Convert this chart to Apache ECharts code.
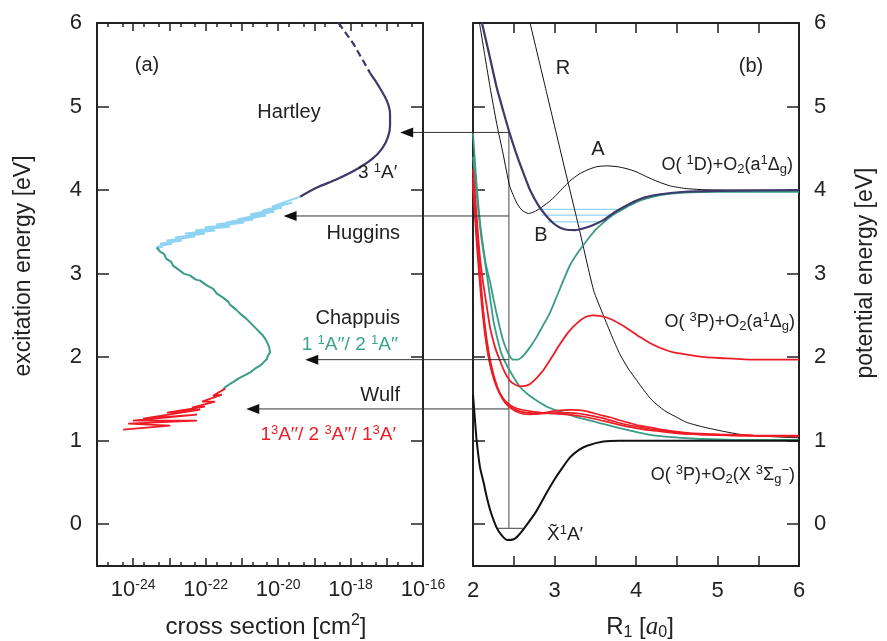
<!DOCTYPE html>
<html><head><meta charset="utf-8">
<script src="https://cdn.jsdelivr.net/npm/echarts@6/dist/echarts.min.js"></script>
<style>html,body{margin:0;padding:0;background:#fff}#c{width:887px;height:641px}</style>
</head><body><div id="c"></div>
<script>
// ---------------- DATA ----------------
// Panel (a): [log10(cross section / cm^2), excitation energy / eV]
const hartleyDashed = [[-18.33,6.0],[-17.92,5.75],[-17.55,5.47],[-17.46,5.40]];
const hartleySolid = [[-17.46,5.40],[-17.23,5.25],[-17.0,5.07],[-16.91,4.91],[-16.91,4.77],[-16.97,4.63],[-17.14,4.49],[-17.41,4.37],[-17.83,4.25],[-18.38,4.13],[-18.93,4.03],[-19.39,3.92]];
const huggins = [[-19.39,3.922],[-20.17,3.802],[-19.61,3.850],[-20.44,3.754],[-19.89,3.790],[-20.77,3.707],[-20.11,3.743],[-21.13,3.647],[-20.33,3.695],[-21.44,3.611],[-20.69,3.647],[-21.71,3.587],[-20.94,3.611],[-22.02,3.551],[-21.33,3.563],[-22.29,3.515],[-21.74,3.515],[-22.57,3.479],[-22.02,3.479],[-22.85,3.431],[-22.29,3.443],[-23.09,3.395],[-22.65,3.395],[-23.26,3.359],[-22.93,3.359],[-23.34,3.323],[-23.18,3.323],[-23.37,3.299]];
const chappuis = [[-23.35,3.315],[-23.26,3.263],[-23.15,3.236],[-23.09,3.180],[-22.96,3.144],[-22.90,3.096],[-22.71,3.036],[-22.60,3.0],[-22.43,2.976],[-22.27,2.928],[-22.15,2.916],[-21.96,2.856],[-21.80,2.820],[-21.69,2.760],[-21.52,2.713],[-21.38,2.665],[-21.33,2.629],[-21.16,2.569],[-21.05,2.521],[-20.88,2.461],[-20.77,2.413],[-20.66,2.365],[-20.55,2.317],[-20.44,2.269],[-20.36,2.222],[-20.30,2.174],[-20.25,2.126],[-20.22,2.057],[-20.28,2.018],[-20.31,1.978],[-20.41,1.934],[-20.50,1.898],[-20.64,1.862],[-20.77,1.818],[-20.94,1.778],[-21.10,1.743],[-21.22,1.707],[-21.33,1.679],[-21.44,1.647],[-21.51,1.619]];
const wulf = [[-21.46,1.623],[-21.80,1.539],[-21.55,1.551],[-22.10,1.467],[-21.74,1.467],[-22.38,1.395],[-22.02,1.407],[-23.07,1.335],[-22.15,1.371],[-23.73,1.263],[-22.24,1.311],[-24.01,1.240],[-22.24,1.240],[-24.14,1.204],[-22.98,1.180],[-24.28,1.132]];
const crossLabelExponents = [-24,-22,-20,-18,-16];
const energyTicks = [0,1,2,3,4,5,6];
// arrows from panel (b) to panel (a)
const arrowLevels = [4.69, 3.69, 1.97, 1.38];
const arrowTips = [-16.63, -19.85, -19.25, -20.88];
const franckCondonR = 2.44;

// Panel (b): [R1 / a0, potential energy / eV]
const groundX = [[2.0,1.55],[2.02,1.3],[2.045,1.0],[2.086,0.68],[2.13,0.5],[2.17,0.32],[2.22,0.14],[2.29,-0.04],[2.35,-0.13],[2.42,-0.19],[2.5,-0.18],[2.57,-0.12],[2.65,-0.02],[2.78,0.16],[2.9,0.37],[2.99,0.52],[3.1,0.68],[3.19,0.8],[3.3,0.89],[3.4,0.94],[3.6,0.99],[3.8,1.0],[4.5,1.0],[6.0,1.0]];
const state31A = [[2.11,6.0],[2.2,5.62],[2.29,5.23],[2.37,4.95],[2.45,4.68],[2.53,4.44],[2.62,4.2],[2.7,4.0],[2.8,3.82],[2.9,3.69],[2.99,3.6],[3.07,3.55],[3.15,3.525],[3.25,3.52],[3.35,3.54],[3.47,3.58],[3.6,3.64],[3.7,3.71],[3.8,3.77],[3.93,3.84],[4.1,3.91],[4.3,3.95],[4.6,3.98],[5.0,3.99],[6.0,4.0]];
const diabaticAB = [[2.08,6.0],[2.15,5.58],[2.21,5.23],[2.29,4.8],[2.37,4.43],[2.45,4.05],[2.54,3.84],[2.6,3.76],[2.68,3.72],[2.75,3.74],[2.82,3.78],[2.92,3.85],[2.99,3.91],[3.1,4.02],[3.19,4.11],[3.3,4.19],[3.4,4.24],[3.52,4.28],[3.64,4.29],[3.77,4.28],[3.89,4.255],[4.0,4.22],[4.13,4.16],[4.27,4.1],[4.42,4.05],[4.6,4.02],[4.82,4.005],[5.2,4.0],[6.0,4.0]];
const diabaticR = [[2.7,6.0],[2.9,5.18],[3.1,4.36],[3.3,3.55],[3.48,2.8],[3.6,2.5],[3.7,2.26],[3.8,2.04],[3.9,1.87],[4.01,1.72],[4.1,1.6],[4.2,1.48],[4.35,1.36],[4.5,1.28],[4.62,1.22],[4.8,1.17],[5.03,1.12],[5.25,1.08],[5.44,1.06],[5.85,1.04],[6.0,1.035]];
const singletA1 = [[2.0,4.68],[2.03,4.25],[2.065,3.83],[2.1,3.5],[2.16,3.1],[2.21,2.9],[2.25,2.7],[2.29,2.52],[2.33,2.35],[2.37,2.2],[2.43,2.05],[2.49,1.97],[2.55,1.97],[2.62,2.02],[2.7,2.12],[2.78,2.24],[2.86,2.38],[2.94,2.52],[3.05,2.78],[3.19,3.1],[3.3,3.27],[3.4,3.4],[3.5,3.52],[3.6,3.61],[3.7,3.69],[3.8,3.75],[3.93,3.82],[4.1,3.89],[4.3,3.94],[4.6,3.97],[5.0,3.98],[6.0,3.98]];
const singletA2 = [[2.0,4.4],[2.05,3.9],[2.1,3.45],[2.15,3.12],[2.18,2.92],[2.25,2.44],[2.3,2.22],[2.35,2.04],[2.45,1.84],[2.58,1.64],[2.68,1.55],[2.78,1.48],[2.9,1.41],[3.03,1.36],[3.15,1.32],[3.28,1.28],[3.45,1.24],[3.6,1.2],[3.8,1.15],[3.93,1.12],[4.17,1.07],[4.4,1.045],[4.8,1.02],[5.2,1.01],[6.0,1.01]];
const tripletA = [[2.0,4.25],[2.04,3.75],[2.08,3.25],[2.12,2.92],[2.17,2.6],[2.21,2.35],[2.27,2.12],[2.33,1.96],[2.39,1.82],[2.45,1.72],[2.52,1.67],[2.58,1.65],[2.64,1.655],[2.7,1.68],[2.78,1.75],[2.86,1.84],[2.96,1.99],[3.07,2.16],[3.17,2.3],[3.28,2.41],[3.38,2.48],[3.47,2.5],[3.57,2.49],[3.68,2.46],[3.8,2.4],[3.93,2.32],[4.05,2.24],[4.17,2.17],[4.3,2.11],[4.45,2.06],[4.63,2.03],[4.85,2.0],[5.03,1.99],[5.44,1.97],[6.0,1.97]];
const tripletB = [[2.0,4.15],[2.04,3.6],[2.08,3.1],[2.12,2.6],[2.16,2.22],[2.21,1.92],[2.27,1.72],[2.33,1.56],[2.39,1.46],[2.45,1.40],[2.53,1.35],[2.62,1.32],[2.7,1.315],[2.78,1.32],[2.9,1.34],[3.03,1.36],[3.19,1.37],[3.3,1.365],[3.4,1.35],[3.55,1.31],[3.68,1.28],[3.8,1.245],[3.93,1.21],[4.05,1.18],[4.17,1.16],[4.4,1.12],[4.62,1.095],[5.03,1.075],[5.44,1.065],[6.0,1.06]];
const tripletC = [[2.0,4.1],[2.05,3.4],[2.1,2.8],[2.15,2.35],[2.2,2.02],[2.25,1.8],[2.3,1.64],[2.37,1.5],[2.45,1.41],[2.55,1.36],[2.66,1.335],[2.8,1.325],[2.95,1.33],[3.1,1.335],[3.25,1.33],[3.4,1.31],[3.55,1.28],[3.7,1.24],[3.85,1.2],[4.0,1.17],[4.17,1.14],[4.4,1.11],[4.62,1.085],[5.03,1.07],[5.44,1.06],[6.0,1.055]];
const tripletD = [[2.0,4.05],[2.05,3.3],[2.1,2.7],[2.15,2.25],[2.2,1.95],[2.26,1.72],[2.32,1.58],[2.4,1.47],[2.5,1.4],[2.6,1.37],[2.75,1.345],[2.9,1.33],[3.05,1.32],[3.2,1.31],[3.35,1.29],[3.5,1.26],[3.65,1.225],[3.8,1.19],[3.95,1.16],[4.17,1.125],[4.4,1.1],[4.62,1.08],[5.03,1.065],[5.44,1.058],[6.0,1.05]];
const vibLevel1 = [[2.80,3.77],[3.77,3.77]];
const vibLevel2 = [[2.84,3.70],[3.68,3.70]];
const vibLevel3 = [[2.92,3.62],[3.56,3.62]];
const fcVertical = [[2.44,-0.05],[2.44,4.69]];
const groundLevel = [[2.29,-0.05],[2.61,-0.05]];
const rTicksLabels = [2,3,4,5,6];

// ---------------- STYLE ----------------
const FONT = '"Liberation Sans", Arial, Helvetica, sans-serif';
const TXT = '#222';
const C_NAVY = '#3d3a6b', C_LBLUE = '#8fd3f3', C_GREEN = '#3a9c86', C_RED = '#ee1c25', C_BLACK = '#111', C_GRAY = '#666';
const frameLS = {color:'#222', width:2};

const crossMajor = [], crossMinor = [];
for (let n = -25; n <= -16; n++) { crossMajor.push(n); if (n < -16) { crossMinor.push(n + Math.log10(2)); crossMinor.push(n + Math.log10(5)); } }

function xAx(grid, pos, opts) {
  return Object.assign({gridIndex:grid, type:'value', position:pos, splitLine:{show:false},
    axisLine:{show:true, onZero:false, lineStyle:frameLS}}, opts);
}
const labelRich10 = {
  b:{fontSize:22, fontFamily:FONT, color:TXT, lineHeight:24},
  e:{fontSize:14, fontFamily:FONT, color:TXT, lineHeight:14, verticalAlign:'top'}
};
const xAxes = [
  xAx(0,'bottom',{min:-25,max:-16, axisTick:{inside:true,length:8,customValues:crossMajor,lineStyle:{color:'#222',width:1.5}},
    axisLabel:{customValues:crossLabelExponents, margin:12, formatter:v=>'{b|10}{e|'+v+'}', rich:labelRich10}}),
  xAx(0,'bottom',{min:-25,max:-16, axisLine:{show:false,onZero:false}, axisTick:{inside:true,length:4,customValues:crossMinor,lineStyle:{color:'#222',width:1.5}}, axisLabel:{show:false}}),
  xAx(0,'top',{min:-25,max:-16, axisTick:{inside:true,length:8,customValues:crossMajor,lineStyle:{color:'#222',width:1.5}}, axisLabel:{show:false}}),
  xAx(0,'top',{min:-25,max:-16, axisLine:{show:false,onZero:false}, axisTick:{inside:true,length:4,customValues:crossMinor,lineStyle:{color:'#222',width:1.5}}, axisLabel:{show:false}}),
  xAx(1,'bottom',{min:2,max:6,interval:0.5, axisTick:{inside:true,length:10,lineStyle:{color:'#222',width:1.5}},
    axisLabel:{customValues:rTicksLabels, margin:14, fontSize:22, fontFamily:FONT, color:TXT}}),
  xAx(1,'top',{min:2,max:6,interval:0.5, axisTick:{inside:true,length:10,lineStyle:{color:'#222',width:1.5}}, axisLabel:{show:false}})
];
function yAx(grid, pos, showLabel) {
  return {gridIndex:grid, type:'value', position:pos, min:-0.5, max:6, splitLine:{show:false},
    axisLine:{show:true,onZero:false,lineStyle:frameLS},
    axisTick:{inside:true,length:12,customValues:energyTicks,lineStyle:{color:'#222',width:1.5}},
    axisLabel: showLabel ? {customValues:energyTicks, margin:15, fontSize:22, fontFamily:FONT, color:TXT} : {show:false}};
}
const yAxes = [yAx(0,'left',true), yAx(0,'right',false), yAx(1,'left',false), yAx(1,'right',true)];

function lineA(data, color, width, extra) {
  return Object.assign({type:'line', xAxisIndex:0, yAxisIndex:0, data, symbol:'none', silent:true,
    lineStyle:{color, width}}, extra || {});
}
function lineB(data, color, width, extra) {
  return Object.assign({type:'line', xAxisIndex:4, yAxisIndex:2, data, symbol:'none', silent:true, smooth:0.2,
    lineStyle:{color, width}}, extra || {});
}
// arrows: custom series in panel (a) coordinates; each item = [tip, energy, tail]
function arrowSeries(tail) {
  return {
    id:'arrows', type:'custom', xAxisIndex:0, yAxisIndex:0, clip:false, silent:true, z:5,
    data: arrowLevels.map((E, i) => [arrowTips[i], E, tail]),
    renderItem: function (params, api) {
      const tip = api.coord([api.value(0), api.value(1)]);
      const end = api.coord([api.value(2), api.value(1)]);
      return {type:'group', children:[
        {type:'line', shape:{x1:tip[0]+10, y1:tip[1], x2:end[0], y2:end[1]}, style:{stroke:'#333', lineWidth:1}},
        {type:'polygon', shape:{points:[[tip[0],tip[1]],[tip[0]+13,tip[1]-5],[tip[0]+13,tip[1]+5]]}, style:{fill:'#111'}}
      ]};
    }
  };
}

const series = [
  lineA(hartleyDashed, C_NAVY, 2.2, {lineStyle:{color:C_NAVY,width:2.2,type:[7,4]}}),
  lineA(hartleySolid, C_NAVY, 2.2, {smooth:0.3}),
  lineA(huggins, C_LBLUE, 2),
  lineA(chappuis, C_GREEN, 2),
  lineA(wulf, C_RED, 1.8),
  lineB(fcVertical, C_GRAY, 1.2, {smooth:false}),
  lineB(groundLevel, C_GRAY, 1.2, {smooth:false}),
  lineB(vibLevel1, C_LBLUE, 1.3, {smooth:false}),
  lineB(vibLevel2, C_LBLUE, 1.3, {smooth:false}),
  lineB(vibLevel3, C_LBLUE, 1.3, {smooth:false}),
  lineB(diabaticR, C_BLACK, 1),
  lineB(diabaticAB, C_BLACK, 1),
  lineB(singletA2, C_GREEN, 1.8),
  lineB(tripletD, C_RED, 1.7),
  lineB(tripletC, C_RED, 1.7),
  lineB(tripletB, C_RED, 1.7),
  lineB(tripletA, C_RED, 1.8),
  lineB(singletA1, C_GREEN, 1.8),
  lineB(state31A, C_NAVY, 2.2),
  lineB(groundX, C_BLACK, 2),
  arrowSeries(-16)
];

// ---------------- TEXT ----------------
function rich(color, size, supRatio) {
  const s = Math.round(size * (supRatio || 0.66));
  return {
    n:{fontSize:size, fontFamily:FONT, fill:color, color:color, lineHeight:size+4},
    s:{fontSize:s, fontFamily:FONT, fill:color, color:color, lineHeight:s, verticalAlign:'top'},
    d:{fontSize:s, fontFamily:FONT, fill:color, color:color, lineHeight:s, verticalAlign:'bottom'},
    i:{fontSize:size+1, fontFamily:'"Liberation Serif", "Times New Roman", serif', fontStyle:'italic', fill:color, color:color, lineHeight:size+4}
  };
}
function txt(x, y, text, align, color, size, rot, supRatio) {
  return {type:'text', x, y, rotation: rot || 0, silent:true, z:10,
    style:{text, align, verticalAlign:'middle', fontSize:size, fontFamily:FONT, fill:color, rich:rich(color,size,supRatio)}};
}
const graphics = [
  txt(147,65,'{n|(a)}','center',TXT,20),
  txt(289,112,'{n|Hartley}','center',TXT,20),
  txt(358,173,'{n|3 }{s|1}{n|A\u2032}','left',TXT,19),
  txt(400,233,'{n|Huggins}','right',TXT,20),
  txt(400,318,'{n|Chappuis}','right',TXT,20),
  txt(398,345,'{n|1 }{s|1}{n|A\u2032\u2032/ 2 }{s|1}{n|A\u2032\u2032}','right','#3aa58c',19),
  txt(400,395,'{n|Wulf}','right',TXT,20),
  txt(396,435,'{n|1}{s|3}{n|A\u2032\u2032/ 2 }{s|3}{n|A\u2032\u2032/ 1}{s|3}{n|A\u2032}','right',C_RED,19),
  txt(751,66,'{n|(b)}','center',TXT,20),
  txt(563,68,'{n|R}','center',TXT,20),
  txt(598,149,'{n|A}','center',TXT,20),
  txt(541,235,'{n|B}','center',TXT,20),
  txt(793,165,'{n|O( }{s|1}{n|D)+O}{d|2}{n|(a}{s|1}{n|\u0394}{d|g}{n|)}','right',TXT,18,0,0.72),
  txt(795,322,'{n|O( }{s|3}{n|P)+O}{d|2}{n|(a}{s|1}{n|\u0394}{d|g}{n|)}','right',TXT,18,0,0.72),
  txt(795,475,'{n|O( }{s|3}{n|P)+O}{d|2}{n|(X }{s|3}{n|\u03A3}{d|g}{s|\u2212}{n|)}','right',TXT,18,0,0.72),
  txt(547,535,'{n|X\u0303}{s|1}{n|A\u2032}','left',TXT,19),
  txt(24,266,'{n|excitation energy [eV]}','center',TXT,23,Math.PI/2),
  txt(866,273,'{n|potential energy [eV]}','center',TXT,23,Math.PI/2),
  txt(266,627,'{n|cross section [cm}{s|2}{n|]}','center',TXT,24),
  txt(640,627,'{n|R}{d|1}{n| [}{i|a}{d|0}{n|]}','center',TXT,24)
];

const chart = echarts.init(document.getElementById('c'), null, {renderer:'canvas'});
chart.setOption({
  animation:false,
  backgroundColor:'#fff',
  grid:[{left:97, top:23, width:326, height:543}, {left:473, top:23, width:326, height:543}],
  xAxis:xAxes, yAxis:yAxes, series, graphic:graphics
});
// Arrow tails start at the Franck-Condon line of panel (b); express that position in panel (a)'s axis.
const px = chart.convertToPixel({xAxisIndex:4}, franckCondonR);
const tail = chart.convertFromPixel({xAxisIndex:0}, px);
chart.setOption({series: [arrowSeries(tail)]});
</script></body></html>
